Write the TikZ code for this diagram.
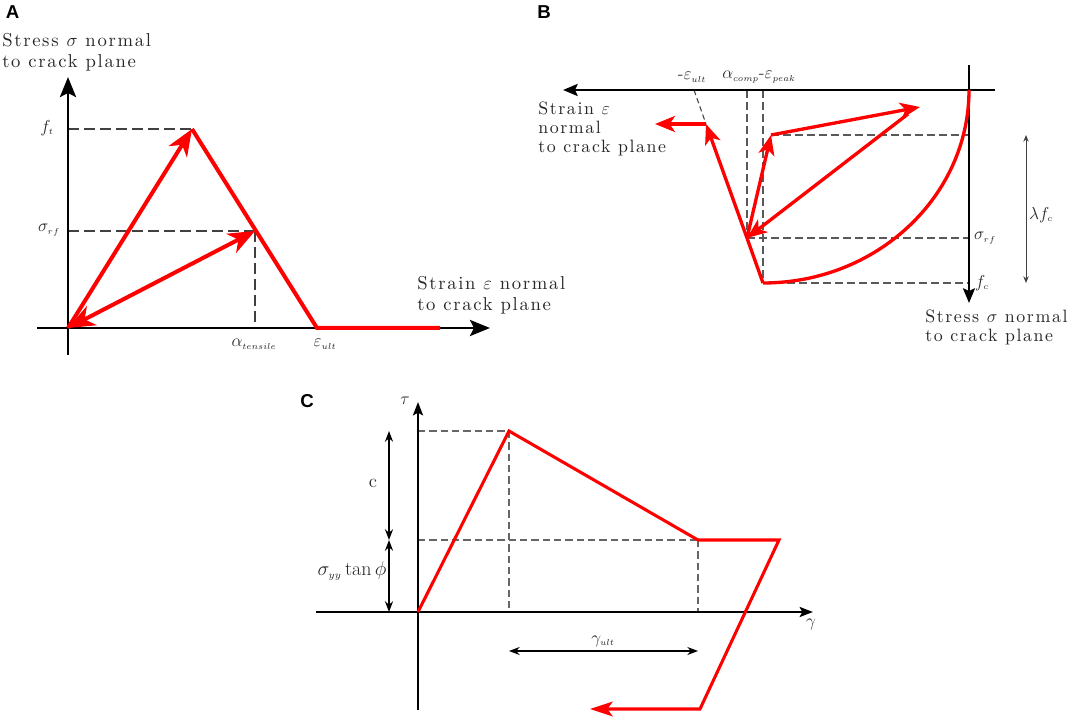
\RequirePackage{fix-cm}
\documentclass[tikz,border=0pt]{standalone}
\usepackage{fontspec}
\newfontfamily\hdr{Liberation Sans}
\newfontfamily\lblfont[Extension=.otf,LetterSpace=9]{lmroman10-regular}
\usetikzlibrary{arrows.meta}
\begin{document}
\begin{tikzpicture}[x=0.75pt,y=-0.75pt,
  lblA/.style={inner sep=0pt, align=left, text=black!85, font=\lblfont\fontsize{14}{15.75}\selectfont},
  lblB/.style={inner sep=0pt, align=left, text=black!85, font=\lblfont\fontsize{13.4}{14.2}\selectfont},
  mlbl/.style={inner sep=0pt, text=black!85, font=\fontsize{13}{15}\selectfont},
  hdrlbl/.style={inner sep=0pt, font=\hdr\bfseries\fontsize{14}{16}\selectfont},
  axA/.style={line width=2.2pt, -{Stealth[length=15pt,width=12pt,inset=3pt]}},
  axB/.style={line width=1.8pt, -{Stealth[length=11pt,width=9pt,inset=2pt]}},
  axC/.style={line width=1.8pt, -{Stealth[length=10pt,width=7.5pt,inset=2pt]}},
  redA/.style={draw=red, line width=3pt},
  redB/.style={draw=red, line width=2.5pt},
  redC/.style={draw=red, line width=2.3pt},
  headA/.style={-{Stealth[length=20pt,width=16pt,inset=6pt]}},
  headB/.style={-{Stealth[length=15pt,width=12pt,inset=4pt]}},
  headC/.style={-{Stealth[length=17pt,width=11pt,inset=4pt]}},
  dashA/.style={draw=black!75, line width=1.1pt, dash pattern=on 8pt off 4pt},
  dashB/.style={draw=black!65, line width=1.1pt, dash pattern=on 6pt off 3pt},
  dashC/.style={draw=black!60, line width=1pt, dash pattern=on 5.5pt off 3pt},
  dimC/.style={line width=1.4pt, {Stealth[length=8pt,width=6pt]}-{Stealth[length=8pt,width=6pt]}},
  dimG/.style={line width=1.1pt, {Stealth[length=8pt,width=6pt]}-{Stealth[length=8pt,width=6pt]}},
  dimL/.style={draw=black!75, line width=0.75pt, {Stealth[length=5pt,width=4pt]}-{Stealth[length=5pt,width=4pt]}}
]
\useasboundingbox (0,0) rectangle (1072,720);

%================ Panel A =================
\node[hdrlbl] (hA) at (12.5,12) {A};
\coordinate (Ao) at (68,328);
\coordinate (Ayb) at (68,355);
\coordinate (Ayt) at (68,77);
\coordinate (Axl) at (37,328);
\coordinate (Axr) at (490,328);
\coordinate (Apk) at (192,129);
\coordinate (Arf) at (255,231);
\coordinate (Aeu) at (317,328);
\coordinate (Aend) at (440,328);
\coordinate (Aft) at (68,129);
\coordinate (Asr) at (68,231);
\coordinate (Aal) at (255,328);

\draw[dashA] (Aft) -- (Apk);
\draw[dashA] (Asr) -- (Arf);
\draw[dashA] (Arf) -- (Aal);
\draw[axA] (Ayb) -- (Ayt);
\draw[axA] (Axl) -- (Axr);
\draw[redA] (Apk) -- (Aeu) -- (Aend);
\draw[redA, headA] (Ao) -- (Apk);
\draw[redA, {Stealth[length=20pt,width=16pt,inset=6pt]}-{Stealth[length=20pt,width=16pt,inset=6pt]}] (Ao) -- (Arf);

\node[lblA, anchor=north west] (tA1) at (2,33) {Stress $\sigma$ normal\\to crack plane};
\node[lblA, anchor=north west] (tA2) at (417,276) {Strain $\varepsilon$ normal\\to crack plane};
\node[mlbl] (lft) at (47,128) {$f_{\scriptscriptstyle t}$};
\node[mlbl] (lsrfA) at (49,230) {$\sigma_{\scriptscriptstyle rf}$};
\node[mlbl] (lalt) at (254,344) {$\alpha_{\scriptscriptstyle tensile}$};
\node[mlbl] (leuA) at (325,344) {$\varepsilon_{\scriptscriptstyle ult}$};

%================ Panel B =================
\node[hdrlbl] (hB) at (544,12) {B};
\coordinate (Bo) at (969,90);
\coordinate (Bxr) at (995,90);
\coordinate (Bxl) at (563,90);
\coordinate (Byt) at (969,65);
\coordinate (Byb) at (969,303);
\coordinate (Brf) at (747,238);
\coordinate (Bfc) at (763,283);
\coordinate (Bul) at (706,124);
\coordinate (Bleft) at (655,124);
\coordinate (Bup) at (771,135);
\coordinate (Btr) at (920,107);
\coordinate (Bdg) at (908,114);
\coordinate (Bdt) at (694,90);
\coordinate (Bv1) at (747,90);
\coordinate (Bv2) at (763,90);
\coordinate (Bh1) at (969,135);
\coordinate (Bh2) at (969,238);
\coordinate (Bh3) at (969,283);
\coordinate (Blt) at (1026,135);
\coordinate (Blb) at (1026,283);

\draw[dashB] (Bv1) -- (Brf);
\draw[dashB] (Bv2) -- (Bfc);
\draw[dashB] (Bup) -- (Bh1);
\draw[dashB] (Brf) -- (Bh2);
\draw[dashB] (Bfc) -- (Bh3);
\draw[draw=black!75, line width=0.8pt, dash pattern=on 4pt off 2.5pt] (Bdt) -- (Bul);
\draw[axB] (Bxr) -- (Bxl);
\draw[axB] (Byt) -- (Byb);
\draw[dimL] (Blt) -- (Blb);

\draw[redB] (Bo) .. controls (969,196.5) and (876.7,283) .. (Bfc);
\draw[redB, headB] (Bfc) -- (Brf) -- (Bul);
\draw[redB, headB] (Bul) -- (Bleft);
\draw[redB, headB] (Brf) -- (Bup);
\draw[redB, headB] (Bup) -- (Btr);
\draw[redB, headB] (Bdg) -- (Brf);

\node[lblB, anchor=north west] (tB1) at (538,102) {Strain $\varepsilon$\\normal\\to crack plane};
\node[lblB, anchor=north west] (tB2) at (925,310) {Stress $\sigma$ normal\\to crack plane};
\node[mlbl] (leuB) at (692,77) {-$\varepsilon_{\scriptscriptstyle ult}$};
\node[mlbl] (lacp) at (759,77) {$\alpha_{\scriptscriptstyle comp}$-$\varepsilon_{\scriptscriptstyle peak}$};
\node[mlbl] (lsrfB) at (985,238) {$\sigma_{\scriptscriptstyle rf}$};
\node[mlbl] (lfc) at (982,283) {$f_{\scriptscriptstyle c}$};
\node[mlbl] (llf) at (1041,215) {$\lambda f_{\scriptscriptstyle c}$};

%================ Panel C =================
\node[hdrlbl] (hC) at (307,401) {C};
\coordinate (Co) at (418,612);
\coordinate (Cyt) at (418,402);
\coordinate (Cyb) at (418,710);
\coordinate (Cxl) at (316,612);
\coordinate (Cxr) at (813,612);
\coordinate (Cpk) at (509,431);
\coordinate (Cres) at (698,540);
\coordinate (Cr2) at (779,540);
\coordinate (Cbot) at (700,709);
\coordinate (Cend) at (590,709);
\coordinate (Cd1) at (418,431);
\coordinate (Cd2) at (509,612);
\coordinate (Cd3) at (418,540);
\coordinate (Cd4) at (698,612);
\coordinate (Cm1) at (389,431);
\coordinate (Cm2) at (389,540);
\coordinate (Cm3) at (389,612);
\coordinate (Cg1) at (509,651);
\coordinate (Cg2) at (698,651);

\draw[dashC] (Cd1) -- (Cpk);
\draw[dashC] (Cpk) -- (Cd2);
\draw[dashC] (Cd3) -- (Cres);
\draw[dashC] (Cres) -- (Cd4);
\draw[axC] (Cyb) -- (Cyt);
\draw[axC] (Cxl) -- (Cxr);
\draw[dimC] (Cm1) -- (Cm2);
\draw[dimC] (Cm2) -- (Cm3);
\draw[dimG] (Cg1) -- (Cg2);
\draw[redC, headC] (Co) -- (Cpk) -- (Cres) -- (Cr2) -- (Cbot) -- (Cend);

\node[mlbl] (ltau) at (405,401) {$\tau$};
\node[mlbl] (lgam) at (811,624) {$\gamma$};
\node[mlbl] (lgu) at (603,641) {$\gamma_{\scriptscriptstyle ult}$};
\node[inner sep=0pt, text=black!85, font=\fontsize{14}{16}\selectfont] (lc) at (373,483) {c};
\node[inner sep=0pt, text=black!85, font=\fontsize{15}{17}\selectfont] (lst) at (352,571) {$\sigma_{\scriptscriptstyle yy}\tan\phi$};
\end{tikzpicture}
\end{document}
